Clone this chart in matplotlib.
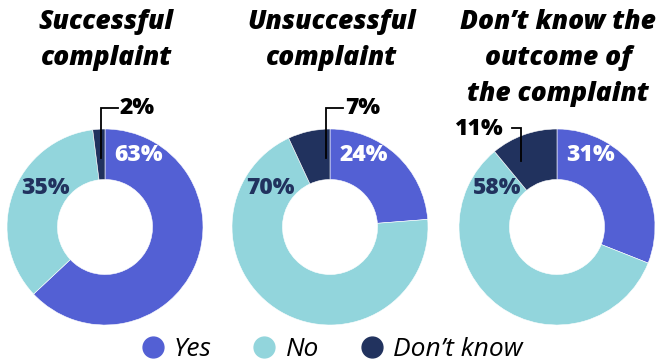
import matplotlib
matplotlib.use("Agg")
import matplotlib.pyplot as plt
from matplotlib.lines import Line2D

plt.rcParams['font.family'] = ['Open Sans', 'DejaVu Sans']

# share of respondents per outcome group
groups = ["Successful\ncomplaint", "Unsuccessful\ncomplaint", "Don\u2019t know the\noutcome of\nthe complaint"]
answers = ["Yes", "No", "Don\u2019t know"]
yes_vals = [63, 24, 31]
no_vals = [35, 70, 58]
dk_vals = [2, 7, 11]

colors = ["#5360d4", "#92d5dc", "#21325e"]
text_colors = ["white", "#21325e"]

W, H = 669, 363
fig = plt.figure(figsize=(W / 100, H / 100), dpi=100)

centers_x = [105, 330, 557]
center_y = 227
R = 98          # outer radius in pixels
span = 1.3      # axes half-width in data units


def px_box(cx, cy):
    half = R * span
    return [(cx - half) / W, 1 - (cy + half) / H, 2 * half / W, 2 * half / H]


for i, cx in enumerate(centers_x):
    ax = fig.add_axes(px_box(cx, center_y))
    vals = [yes_vals[i], no_vals[i], dk_vals[i]]
    ax.pie(vals, colors=colors, startangle=90, counterclock=False, radius=1,
           wedgeprops=dict(width=0.515, edgecolor="white", linewidth=0.4))
    ax.set_xlim(-span, span)
    ax.set_ylim(-span, span)
    ax.set_aspect("equal")
    ax.axis("off")

    ax.text(0.34, 0.73, f"{yes_vals[i]}%", color=text_colors[0], fontsize=16.5,
            fontweight="heavy", ha="center", va="center")
    ax.text(-0.61, 0.40, f"{no_vals[i]}%", color=text_colors[1], fontsize=16.5,
            fontweight="heavy", ha="center", va="center")

    # leader line for the small "don't know" slice
    if i < 2:
        ax.plot([-0.04, -0.04, 0.13], [0.70, 1.21, 1.21], color="black", lw=1.3,
                solid_joinstyle="miter", clip_on=False)
        ax.text(0.15, 1.21, f"{dk_vals[i]}%", fontsize=16.5, fontweight="heavy",
                ha="left", va="center")
    else:
        ax.plot([-0.37, -0.37, -0.46], [0.67, 1.01, 1.01], color="black", lw=1.3,
                solid_joinstyle="miter", clip_on=False)
        ax.text(-0.55, 1.0, f"{dk_vals[i]}%", fontsize=16.5, fontweight="heavy",
                ha="right", va="center")

    for j, line in enumerate(groups[i].split("\n")):
        fig.text(cx / W + 0.002, 1 - (22 + 36 * j) / H, line, fontsize=19,
                 fontweight="heavy", fontstyle="italic", ha="center", va="center")

handles = [Line2D([], [], marker="o", ls="none", markersize=15,
                  markerfacecolor=c, markeredgecolor=c) for c in colors]
leg = fig.legend(handles, answers, loc="center", bbox_to_anchor=(327 / W, 1 - 350 / H),
                 ncol=3, frameon=False, handletextpad=0.0, columnspacing=1.2,
                 handlelength=1.6, prop=dict(size=19, style="italic"), borderaxespad=0)

fig.savefig("out.png", dpi=100)
